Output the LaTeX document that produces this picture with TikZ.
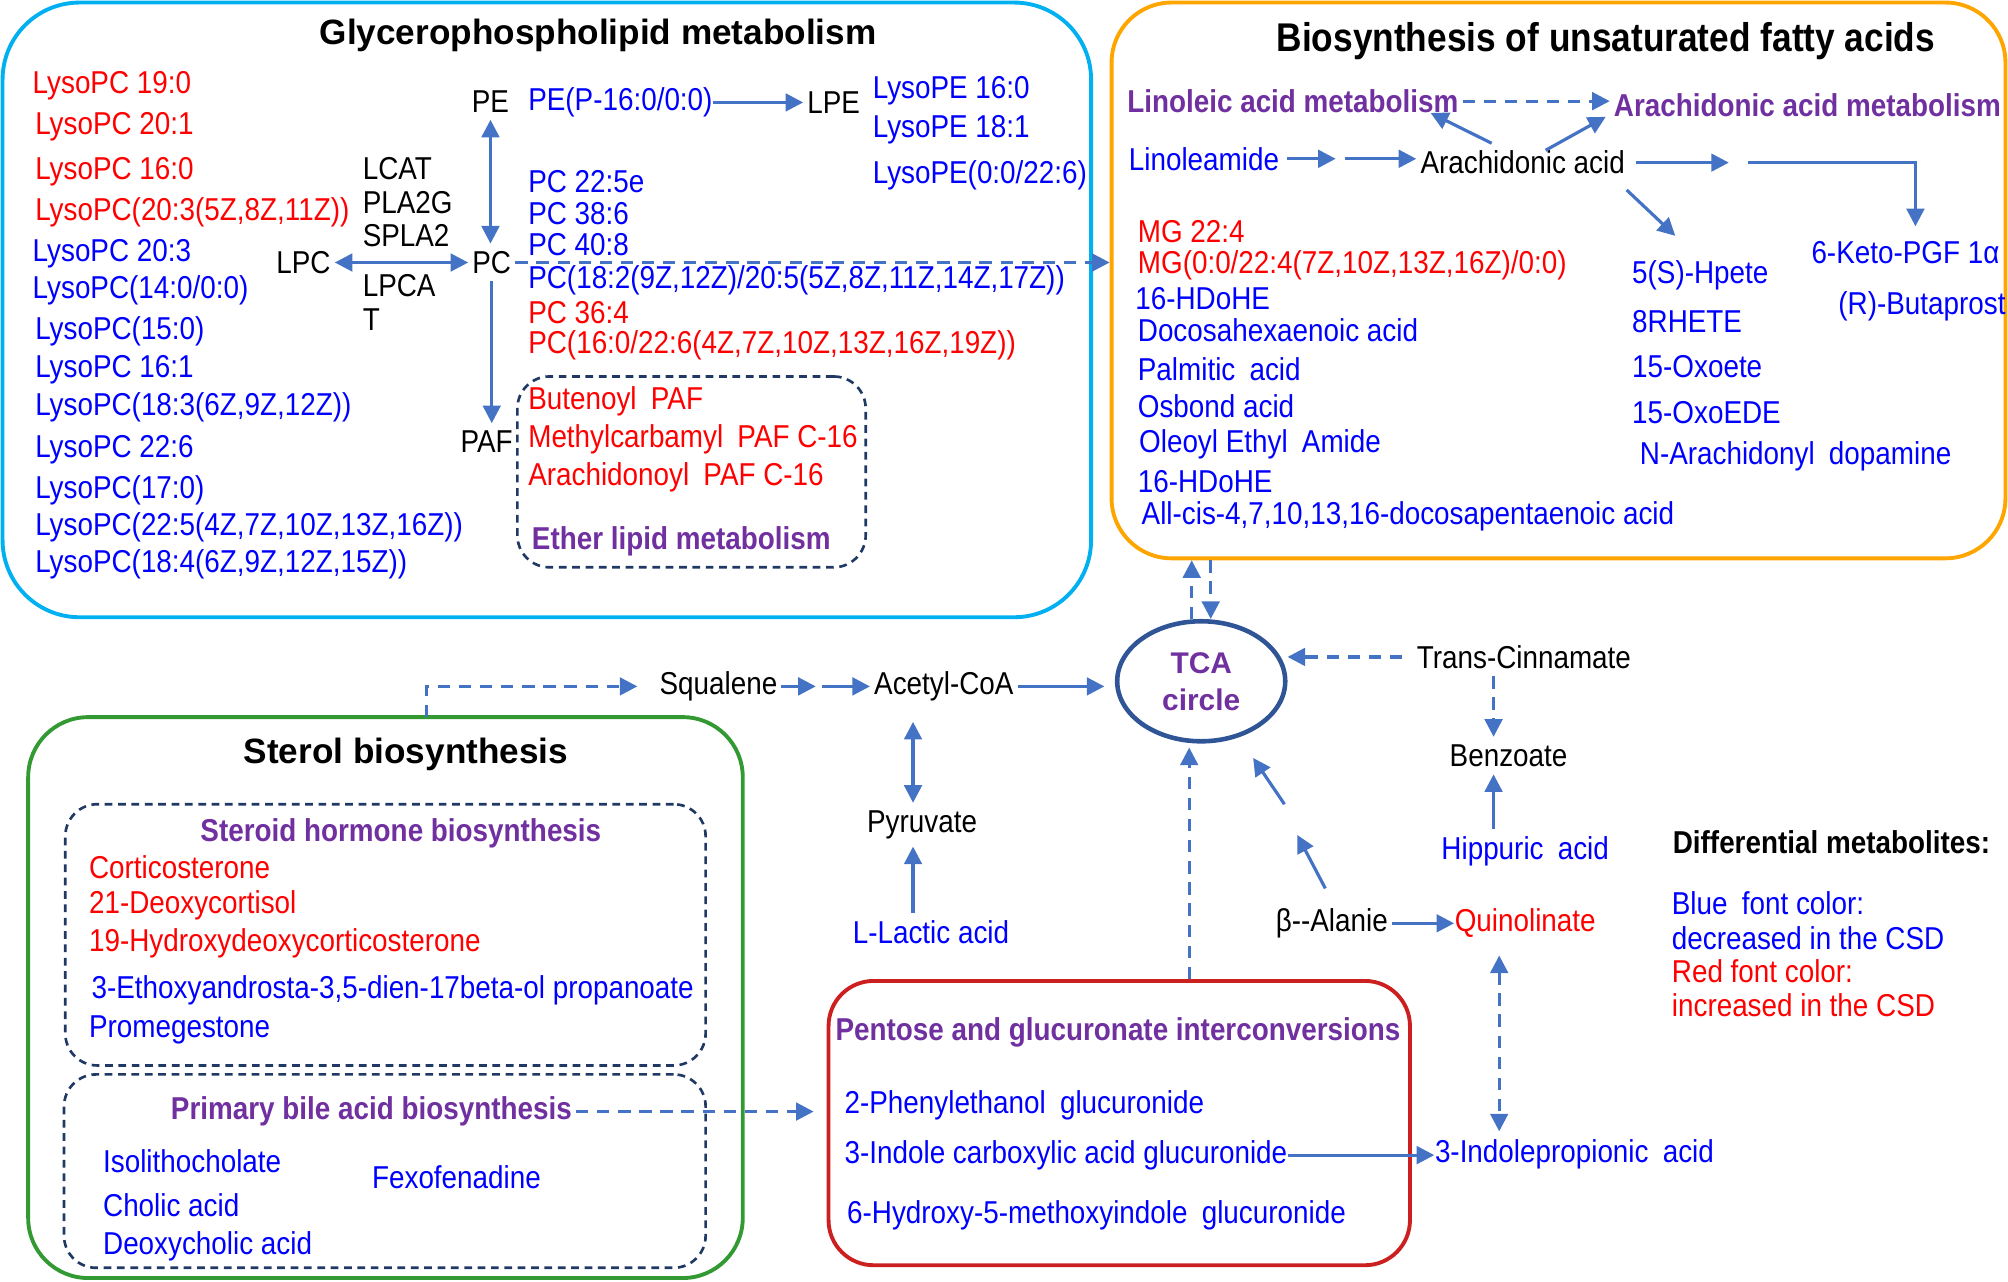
\documentclass[tikz,border=0pt]{standalone}
\usepackage{fontspec}
\setmainfont{Liberation Sans}
\newfontfamily\narrowsans[FakeStretch=0.88]{Liberation Sans}
\usepackage{xcolor}
\usepackage{tikz}
\usetikzlibrary{
    shapes.geometric,
    arrows.meta,
    positioning,
    calc,
    fit
}
\definecolor{metblue}{HTML}{0000FF}
\definecolor{metred}{HTML}{FF0000}
\definecolor{metpurple}{HTML}{7030A0}
\definecolor{arrowblue}{HTML}{4472C4}
\definecolor{boxcyan}{HTML}{00B0F0}
\definecolor{boxorange}{HTML}{FFA500}
\definecolor{boxgreen}{HTML}{339933}
\definecolor{boxred}{HTML}{CC2020}
\definecolor{tcanavy}{HTML}{2F5597}
\definecolor{subnavy}{HTML}{1F3864}
% slightly wider word gap, as in the printed labels
\newcommand{\wgap}{\hspace{0.45em}}
\tikzset{
    % Metabolite label (left aligned)
    metnode/.style={
        anchor=west,
        text=#1,
        font=\narrowsans\fontsize{9}{10.5}\selectfont,
        inner xsep=0pt,
        inner ysep=2pt
    },
    metnode/.default=metblue,
    % Decreased / increased in the CSD
    decnode/.style={metnode=metblue},
    incnode/.style={metnode=metred},
    % Intermediate compound
    midnode/.style={
        text=black,
        font=\narrowsans\fontsize{9}{10.5}\selectfont,
        inner xsep=1pt,
        inner ysep=2pt
    },
    % Pathway name
    pathlabel/.style={
        text=metpurple,
        font=\narrowsans\bfseries\fontsize{9}{10.5}\selectfont,
        inner sep=1pt
    },
    % Box title
    boxtitle/.style={
        text=black,
        font=\bfseries\fontsize{10}{12}\selectfont,
        inner sep=1pt
    },
    % Pathway box
    groupbox/.style={
        rectangle,
        rounded corners=#1,
        line width=1.1pt,
        inner sep=0pt
    },
    % Dashed sub-pathway box
    subbox/.style={
        rectangle,
        rounded corners=0.32cm,
        draw=subnavy,
        dash pattern=on 2.2pt off 1.6pt,
        line width=0.75pt,
        inner sep=0pt
    },
    % TCA ellipse
    tcanode/.style={
        ellipse,
        draw=tcanavy,
        line width=1.3pt,
        minimum width=1.68cm,
        minimum height=1.2cm,
        inner sep=0pt,
        align=center,
        text=metpurple,
        font=\bfseries\fontsize{8.5}{10.5}\selectfont
    },
    % Arrow styles
    flow/.style={
        -{Triangle[length=5pt,width=5pt]},
        line width=0.9pt,
        draw=arrowblue
    },
    dashflow/.style={flow, dash pattern=on 3.5pt off 2.5pt},
    biflow/.style={
        {Triangle[length=5pt,width=5pt]}-{Triangle[length=5pt,width=5pt]},
        line width=0.9pt,
        draw=arrowblue
    },
    dashbiflow/.style={biflow, dash pattern=on 3.5pt off 2.5pt}
}

\begin{document}
\begin{tikzpicture}[x=0.012806cm, y=-0.012806cm]
\useasboundingbox (0,0) rectangle (1568,1001);

    % Pathway boxes
    \node[groupbox=0.77cm, draw=boxcyan, fit={(2,2) (852,482)}] (glyco-box) {};
    \node[groupbox=0.6cm, draw=boxorange, fit={(868,2) (1566,436)}] (bio-box) {};
    \node[groupbox=0.6cm, draw=boxgreen, fit={(22,560) (580,998)}] (sterol-box) {};
    \node[groupbox=0.45cm, draw=boxred, fit={(647,766) (1101,988)}] (pentose-box) {};
    \node[subbox, fit={(404,294) (676,443)}] (ether-box) {};
    \node[subbox, fit={(51,628) (551,832)}] (steroid-box) {};
    \node[subbox, fit={(50,839) (551,990)}] (bile-box) {};

    % Glycerophospholipid metabolism
    \node[boxtitle] (glyco-title) at (467,28) {Glycerophospholipid metabolism};
    \node[incnode] (lpc-190) at (25,67) {LysoPC 19:0};
    \node[incnode] (lpc-201) at (27,99) {LysoPC 20:1};
    \node[incnode] (lpc-160) at (27,134) {LysoPC 16:0};
    \node[incnode] (lpc-203z) at (27,166) {LysoPC(20:3(5Z,8Z,11Z))};
    \node[decnode] (lpc-203) at (25,198) {LysoPC 20:3};
    \node[decnode] (lpc-140) at (25,227) {LysoPC(14:0/0:0)};
    \node[decnode] (lpc-150) at (27,259) {LysoPC(15:0)};
    \node[decnode] (lpc-161) at (27,289) {LysoPC 16:1};
    \node[decnode] (lpc-183) at (27,318) {LysoPC(18:3(6Z,9Z,12Z))};
    \node[decnode] (lpc-226) at (27,351) {LysoPC 22:6};
    \node[decnode] (lpc-170) at (27,383) {LysoPC(17:0)};
    \node[decnode] (lpc-225) at (27,412) {LysoPC(22:5(4Z,7Z,10Z,13Z,16Z))};
    \node[decnode] (lpc-184) at (27,441) {LysoPC(18:4(6Z,9Z,12Z,15Z))};

    \node[midnode] (lpc) at (237,205) {LPC};
    \node[midnode] (pc) at (384,205) {PC};
    \node[midnode] (pe) at (383,79) {PE};
    \node[midnode] (paf) at (380,345) {PAF};
    \node[midnode, anchor=west, align=left, font=\narrowsans\fontsize{9}{9.6}\selectfont] (enz-top) at (280,158) {LCAT\\PLA2G\\SPLA2};
    \node[midnode, anchor=west, align=left, font=\narrowsans\fontsize{9}{9.8}\selectfont] (enz-bot) at (280,236) {LPCA\\T};

    \node[decnode] (pe-p16) at (412,80) {PE(P-16:0/0:0)};
    \node[midnode] (lpe) at (651,80) {LPE};
    \node[decnode] (lpe-160) at (681,71) {LysoPE 16:0};
    \node[decnode] (lpe-181) at (681,101) {LysoPE 18:1};
    \node[decnode] (lpe-226) at (681,137) {LysoPE(0:0/22:6)};
    \node[decnode] (pc-225e) at (412,142) {PC 22:5e};
    \node[decnode] (pc-386) at (412,167) {PC 38:6};
    \node[decnode] (pc-408) at (412,191) {PC 40:8};
    \node[decnode] (pc-182) at (412,219) {PC(18:2(9Z,12Z)/20:5(5Z,8Z,11Z,14Z,17Z))};
    \node[incnode] (pc-364) at (412,244) {PC 36:4};
    \node[incnode] (pc-160) at (412,270) {PC(16:0/22:6(4Z,7Z,10Z,13Z,16Z,19Z))};

    % Ether lipid metabolism
    \node[incnode] (paf-but) at (412,313) {Butenoyl\wgap PAF};
    \node[incnode] (paf-met) at (412,343) {Methylcarbamyl\wgap PAF C-16};
    \node[incnode] (paf-ara) at (412,373) {Arachidonoyl\wgap PAF C-16};
    \node[pathlabel] (ether) at (532,423) {Ether lipid metabolism};

    % Biosynthesis of unsaturated fatty acids
    \node[boxtitle, font=\narrowsans\bfseries\fontsize{11.4}{13}\selectfont] (bio-title) at (1254,32) {Biosynthesis of unsaturated fatty acids};
    \node[pathlabel, anchor=west] (linoleic) at (877,79) {Linoleic acid metabolism};
    \node[pathlabel, anchor=west] (arach-met) at (1257,82) {Arachidonic acid metabolism};
    \node[decnode] (linoleamide) at (881,124) {Linoleamide};
    \node[midnode] (arachidonic) at (1189,127) {Arachidonic acid};
    \coordinate (lin-a) at (1043,124);
    \coordinate (lin-b) at (1050,124);
    \coordinate (ara-a) at (1350,127);
    \coordinate (ara-b) at (1365,127);

    \node[incnode] (mg-224) at (888,181) {MG 22:4};
    \node[incnode] (mg-full) at (888,207) {MG(0:0/22:4(7Z,10Z,13Z,16Z)/0:0)};
    \node[decnode] (hdohe-a) at (886,233) {16-HDoHE};
    \node[decnode] (dha) at (888,258) {Docosahexaenoic acid};
    \node[decnode] (palmitic) at (888,288) {Palmitic\wgap acid};
    \node[decnode] (osbond) at (888,317) {Osbond acid};
    \node[decnode] (oleoyl) at (889,347) {Oleoyl Ethyl\wgap Amide};
    \node[decnode] (hdohe-b) at (888,376) {16-HDoHE};
    \node[decnode] (dpa) at (891,403) {All-cis-4,7,10,13,16-docosapentaenoic acid};
    \node[decnode] (hpete) at (1274,215) {5(S)-Hpete};
    \node[decnode] (rhete) at (1274,251) {8RHETE};
    \node[decnode] (oxoete) at (1274,286) {15-Oxoete};
    \node[decnode] (oxoede) at (1274,322) {15-OxoEDE};
    \node[decnode] (nada) at (1280,356) {N-Arachidonyl\wgap dopamine};
    \node[decnode] (keto) at (1414,197) {6-Keto-PGF 1α};
    \node[decnode] (butaprost) at (1435,239) {(R)-Butaprost};

    % Sterol biosynthesis
    \node[boxtitle] (sterol-title) at (317,589) {Sterol biosynthesis};
    \node[pathlabel] (steroid) at (313,651) {Steroid hormone biosynthesis};
    \node[incnode] (corticosterone) at (69,677) {Corticosterone};
    \node[incnode] (deoxycortisol) at (69,707) {21-Deoxycortisol};
    \node[incnode] (hydroxydoc) at (69,737) {19-Hydroxydeoxycorticosterone};
    \node[decnode] (ethoxy) at (71,773) {3-Ethoxyandrosta-3,5-dien-17beta-ol propanoate};
    \node[decnode] (promegestone) at (69,804) {Promegestone};
    \node[pathlabel] (bile) at (290,868) {Primary bile acid biosynthesis};
    \node[decnode] (isolitho) at (80,907) {Isolithocholate};
    \node[decnode] (cholic) at (80,941) {Cholic acid};
    \node[decnode] (deoxycholic) at (80,973) {Deoxycholic acid};
    \node[decnode] (fexofenadine) at (290,919) {Fexofenadine};
    \coordinate (sterol-out) at (333,560);

    % Central metabolism
    \node[tcanode] (tca) at (938,532) {TCA\\circle};
    \node[midnode] (squalene) at (561,536) {Squalene};
    \node[midnode] (acetyl) at (737,536) {Acetyl-CoA};
    \coordinate (sq-a) at (637,536);
    \coordinate (sq-b) at (642,536);
    \node[midnode] (pyruvate) at (720,644) {Pyruvate};
    \node[decnode, anchor=center] (lactic) at (727,728) {L-Lactic acid};
    \node[midnode] (cinnamate) at (1190,513) {Trans-Cinnamate};
    \node[midnode] (benzoate) at (1178,590) {Benzoate};
    \node[decnode, anchor=center] (hippuric) at (1191,665) {Hippuric\wgap acid};
    \node[midnode] (alanine) at (1040,721) {β--Alanie};
    \node[incnode, anchor=center] (quinolinate) at (1191,721) {Quinolinate};
    \coordinate (ala-a) at (1013,652);
    \coordinate (ala-b) at (1003,628);
    \node[decnode] (indoleprop) at (1120,901) {3-Indolepropionic\wgap acid};

    % Pentose and glucuronate interconversions
    \node[pathlabel] (pentose) at (873,806) {Pentose and glucuronate interconversions};
    \node[decnode] (phenylethanol) at (659,863) {2-Phenylethanol\wgap glucuronide};
    \node[decnode] (icag) at (659,902) {3-Indole carboxylic acid glucuronide};
    \node[decnode] (hmig) at (661,949) {6-Hydroxy-5-methoxyindole\wgap glucuronide};

    % Legend
    \node[midnode, anchor=west, font=\narrowsans\bfseries\fontsize{9}{10.5}\selectfont] (legend) at (1303,658) {Differential metabolites:};
    \node[decnode] (legend-blue) at (1305,705) {Blue\wgap font color:};
    \node[decnode] (legend-dec) at (1305,733) {decreased in the CSD};
    \node[incnode] (legend-red) at (1305,758) {Red font color:};
    \node[incnode] (legend-inc) at (1305,785) {increased in the CSD};

    % Connectors, glycerophospholipids
    \draw[biflow] (lpc.east) -- (pc.west);
    \draw[biflow] (pe.south) -- (pe.south |- pc.north);
    \draw[flow] (pc.south) -- (pc.south |- paf.north);
    \draw[flow] (pe-p16.east) -- (pe-p16.east -| lpe.west);
    \draw[dashflow] (pc.east) -- (pc.east -| bio-box.west);

    % Connectors, fatty acids
    \draw[dashflow] (linoleic.east) -- (linoleic.east -| arach-met.west);
    \draw[flow, shorten <=2pt] (linoleamide.east) -- (lin-a);
    \draw[flow] (lin-b) -- (lin-b -| arachidonic.west);
    \draw[flow] ([xshift=-0.31cm]arachidonic.north) -- ([xshift=-0.32cm,yshift=0.04cm]linoleic.south east);
    \draw[flow] ([xshift=0.23cm,yshift=-0.07cm]arachidonic.north) -- ([xshift=-0.04cm,yshift=0.04cm]arach-met.south west);
    \draw[flow, shorten <=2pt] (arachidonic.east) -- (ara-a);
    \draw[flow, shorten >=2pt] (ara-b) -| ([xshift=0.1cm]keto.north);
    \draw[flow] ([xshift=1.04cm,yshift=-0.08cm]arachidonic.south) -- ([xshift=-0.25cm,yshift=0.17cm]hpete.north);
    \draw[dashflow] ([xshift=-0.095cm]tca.north) -- ([xshift=-0.095cm]tca.north |- bio-box.south);
    \draw[dashflow] ([xshift=0.095cm]tca.north |- bio-box.south) -- ([xshift=0.095cm]tca.north);

    % Connectors, central metabolism
    \draw[dashflow, shorten >=0.18cm] (sterol-out) |- (squalene.west);
    \draw[flow] (squalene.east) -- (sq-a);
    \draw[flow] (sq-b) -- (acetyl.west);
    \draw[flow, shorten >=3pt] (acetyl.east) -- (acetyl.east -| tca.west);
    \draw[biflow, shorten <=0.13cm] ([xshift=-0.09cm]pyruvate.north |- acetyl.south) -- ([xshift=-0.09cm]pyruvate.north);
    \draw[flow] ([xshift=-0.09cm]pyruvate.south |- lactic.north) -- ([xshift=-0.09cm]pyruvate.south);
    \draw[dashflow, shorten <=3pt] (cinnamate.west) -- (cinnamate.west -| tca.east);
    \draw[dashflow] ([xshift=-0.15cm]benzoate.north |- cinnamate.south) -- ([xshift=-0.15cm]benzoate.north);
    \draw[flow] ([xshift=-0.15cm]benzoate.south |- hippuric.north) -- ([xshift=-0.15cm]benzoate.south);
    \draw[flow] (alanine.east) -- (quinolinate.west);
    \draw[flow, shorten <=0.14cm] (alanine.north) -- (ala-a);
    \draw[flow, shorten >=0.25cm] (ala-b) -- (tca);
    \draw[dashbiflow, shorten <=0.1cm] ([xshift=-0.26cm]quinolinate.south) -- ([xshift=-0.26cm]quinolinate.south |- indoleprop.north);
    \draw[flow] (icag.east) -- (icag.east -| indoleprop.west);
    \draw[dashflow, shorten >=0.04cm] ([xshift=-0.12cm]tca.south |- pentose-box.north) -- ([xshift=-0.12cm]tca.south);
    \draw[dashflow, shorten >=0.13cm] (bile.east) -- (bile.east -| pentose-box.west);

\end{tikzpicture}
\end{document}
